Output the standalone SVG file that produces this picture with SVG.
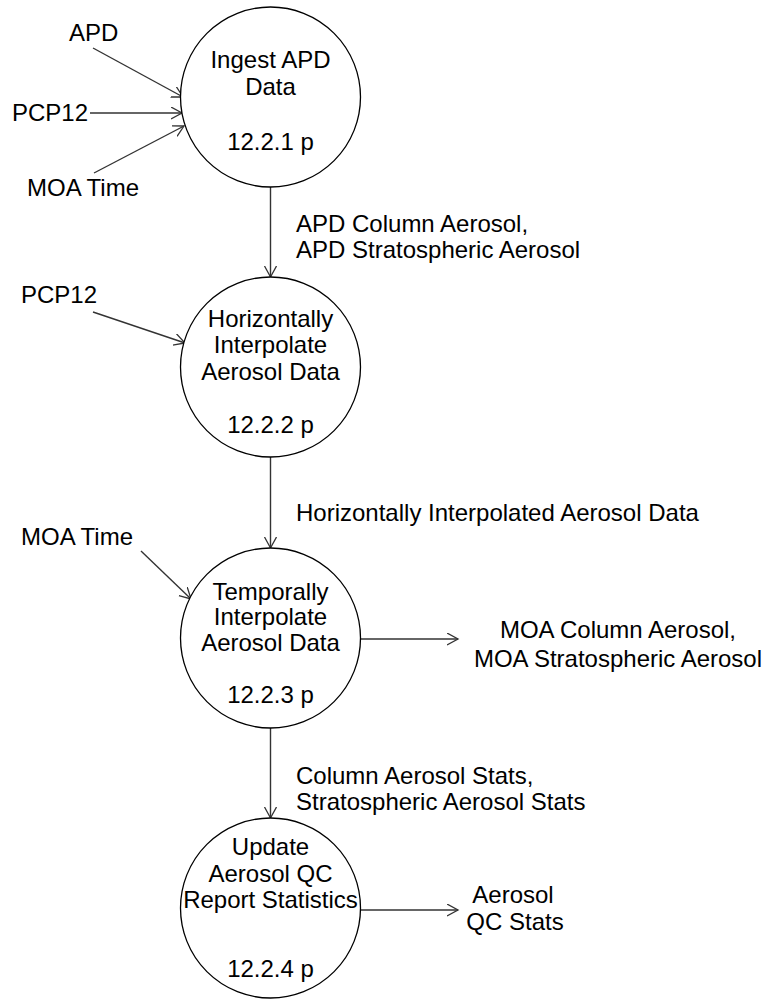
<svg xmlns="http://www.w3.org/2000/svg" width="768" height="999" viewBox="0 0 768 999">
<style>
text{font-family:"Liberation Sans",Arial,sans-serif;font-size:24px;fill:#000}
.c{text-anchor:middle}
.proc{fill:#fff;stroke:#000;stroke-width:1.3}
.flow{fill:none;stroke:#333;stroke-width:1.4;marker-end:url(#ah)}
</style>
<defs>
<marker id="ah" markerUnits="userSpaceOnUse" markerWidth="14" markerHeight="14" refX="11" refY="6" orient="auto" viewBox="0 0 14 14">
<path d="M0,0 L11,6 L0,12" fill="none" stroke="#333" stroke-width="1.3"/>
</marker>
</defs>
<rect width="768" height="999" fill="#fff"/>
<g id="connectors">
<line class="flow" x1="93" y1="48" x2="183" y2="97"/>
<line class="flow" x1="90" y1="113" x2="182" y2="113"/>
<line class="flow" x1="94" y1="173" x2="184" y2="126"/>
<line class="flow" x1="270.5" y1="187" x2="270.5" y2="277"/>
<line class="flow" x1="93" y1="312" x2="185" y2="343"/>
<line class="flow" x1="270.5" y1="457" x2="270.5" y2="548"/>
<line class="flow" x1="141" y1="551" x2="191" y2="599"/>
<line class="flow" x1="360" y1="639" x2="458" y2="639"/>
<line class="flow" x1="270.5" y1="728" x2="270.5" y2="818"/>
<line class="flow" x1="360" y1="910" x2="458" y2="910"/>
</g>
<g id="labels">
<text x="69" y="41">APD</text>
<text x="12" y="121">PCP12</text>
<text x="27" y="196">MOA Time</text>
<text x="296" y="232">APD Column Aerosol,</text>
<text x="296" y="258">APD Stratospheric Aerosol</text>
<text x="21" y="303">PCP12</text>
<text x="296" y="521">Horizontally Interpolated Aerosol Data</text>
<text x="21" y="545">MOA Time</text>
<text class="c" x="618" y="638">MOA Column Aerosol,</text>
<text class="c" x="618" y="667">MOA Stratospheric Aerosol</text>
<text x="296" y="784">Column Aerosol Stats,</text>
<text x="296" y="810">Stratospheric Aerosol Stats</text>
<text class="c" x="513" y="903">Aerosol</text>
<text class="c" x="515" y="930">QC Stats</text>
</g>
<g id="p1">
<circle class="proc" cx="270.5" cy="97" r="90"/>
<text class="c" x="270.5" y="68">Ingest APD</text>
<text class="c" x="270.5" y="95">Data</text>
<text class="c" x="270.5" y="150">12.2.1 p</text>
</g>
<g id="p2">
<circle class="proc" cx="270.5" cy="367" r="90"/>
<text class="c" x="270.5" y="327">Horizontally</text>
<text class="c" x="270.5" y="353">Interpolate</text>
<text class="c" x="270.5" y="380">Aerosol Data</text>
<text class="c" x="270.5" y="433">12.2.2 p</text>
</g>
<g id="p3">
<circle class="proc" cx="270.5" cy="638" r="90"/>
<text class="c" x="270.5" y="600">Temporally</text>
<text class="c" x="270.5" y="625">Interpolate</text>
<text class="c" x="270.5" y="651">Aerosol Data</text>
<text class="c" x="270.5" y="703">12.2.3 p</text>
</g>
<g id="p4">
<circle class="proc" cx="270.5" cy="908" r="90"/>
<text class="c" x="270.5" y="855">Update</text>
<text class="c" x="270.5" y="882">Aerosol QC</text>
<text class="c" x="270.5" y="908">Report Statistics</text>
<text class="c" x="270.5" y="977">12.2.4 p</text>
</g>
</svg>
